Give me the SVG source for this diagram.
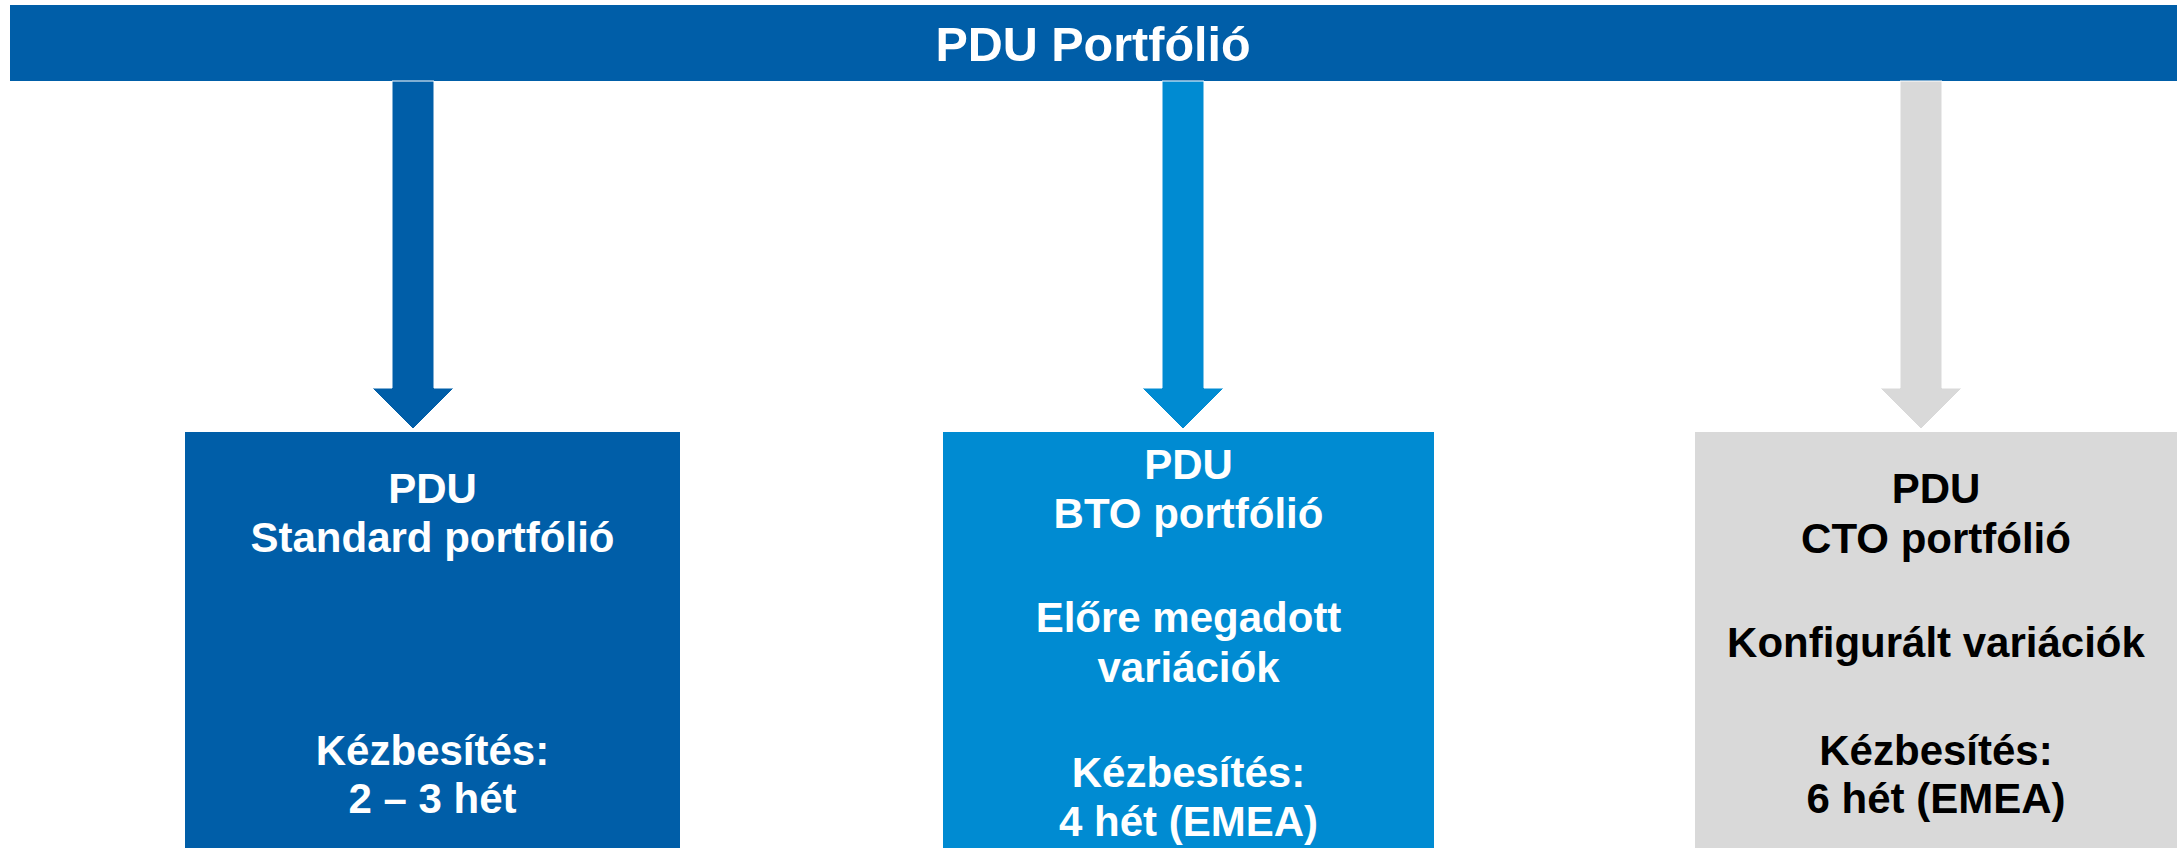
<svg xmlns="http://www.w3.org/2000/svg" width="2177" height="848" viewBox="0 0 2177 848">
<style>
.t{font-family:"Liberation Sans",Arial,sans-serif;font-weight:bold;font-size:42px;text-anchor:middle}
.w{fill:#FFFFFF}
.k{fill:#000000}
.arr{stroke:#FFFFFF;stroke-width:1}
</style>
<rect width="2177" height="848" fill="#FFFFFF"/>
<g id="header">
<rect x="10" y="5" width="2167" height="76" fill="#005EA8"/>
<text class="t w" x="1093" y="61" style="font-size:48.5px">PDU Portfólió</text>
</g>
<g id="connectors">
<path class="arr" d="M392,81 H434 V388 H454 L413,429 L372,388 H392 Z" fill="#005EA8"/>
<path class="arr" d="M1162,81 H1204 V388 H1224 L1183,429 L1142,388 H1162 Z" fill="#008BD2"/>
<path class="arr" d="M1900,81 H1942 V388 H1962 L1921,429 L1880,388 H1900 Z" fill="#D9D9D9"/>
</g>
<g id="standard">
<rect x="185" y="432" width="495" height="416" fill="#005EA8"/>
<text class="t w" x="432.5" y="503">PDU</text>
<text class="t w" x="432.5" y="552">Standard portfólió</text>
<text class="t w" x="432.5" y="765">Kézbesítés:</text>
<text class="t w" x="432.5" y="813">2 – 3 hét</text>
</g>
<g id="bto">
<rect x="943" y="432" width="491" height="416" fill="#008BD2"/>
<text class="t w" x="1188.5" y="479">PDU</text>
<text class="t w" x="1188.5" y="528">BTO portfólió</text>
<text class="t w" x="1188.5" y="632">Előre megadott</text>
<text class="t w" x="1188.5" y="682">variációk</text>
<text class="t w" x="1188.5" y="787">Kézbesítés:</text>
<text class="t w" x="1188.5" y="836">4 hét (EMEA)</text>
</g>
<g id="cto">
<rect x="1695" y="432" width="482" height="416" fill="#D9D9D9"/>
<text class="t k" x="1936" y="503">PDU</text>
<text class="t k" x="1936" y="553">CTO portfólió</text>
<text class="t k" x="1936" y="657">Konfigurált variációk</text>
<text class="t k" x="1936" y="765">Kézbesítés:</text>
<text class="t k" x="1936" y="813">6 hét (EMEA)</text>
</g>
</svg>
